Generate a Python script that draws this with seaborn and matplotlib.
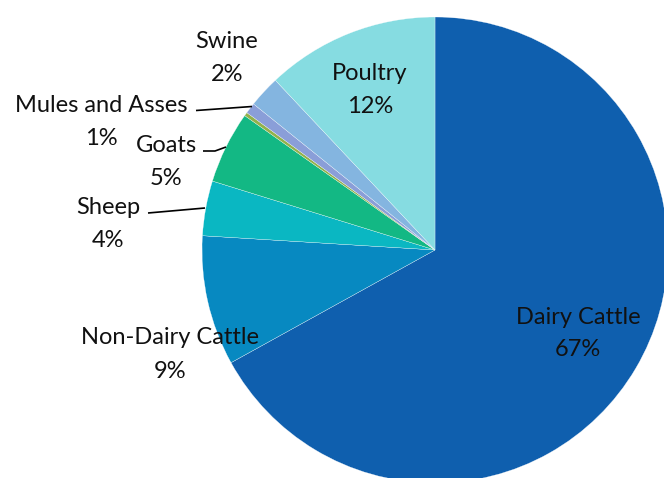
import matplotlib
matplotlib.use("Agg")
import matplotlib.pyplot as plt
import seaborn as sns

# data (share of livestock emissions)
categories = ["Dairy Cattle", "Non-Dairy Cattle", "Sheep", "Goats", "Horses",
              "Mules and Asses", "Swine", "Poultry"]
shares = [66.9, 9.0, 3.8, 5.0, 0.25, 0.75, 2.2, 12.0]
pct_labels = ["67%", "9%", "4%", "5%", "", "1%", "2%", "12%"]
colors = ["#0F5FAE", "#0789C1", "#0AB7C2", "#13B884", "#93B14A",
          "#8A9ED8", "#84B5E0", "#86DCE1"]

# layout (pixel coords, y measured from top of image)
W, H = 664, 478
label_pos = {
    "Dairy Cattle": (578, 317),
    "Non-Dairy Cattle": (170, 338),
    "Sheep": (108, 207),
    "Goats": (166, 145),
    "Mules and Asses": (101, 105),
    "Swine": (227, 41),
    "Poultry": (370, 73),
}
leaders = {
    "Sheep": [(148, 213), (205, 208)],
    "Goats": [(203, 151), (215, 151), (226, 147)],
    "Mules and Asses": [(196, 110.5), (252, 106.5)],
}

sns.set_theme(style="white")
plt.rcParams["font.family"] = ["Lato", "DejaVu Sans"]

fig = plt.figure(figsize=(W / 100, H / 100), dpi=100)
ax = fig.add_axes([0, 0, 1, 1])
ax.pie(shares, colors=colors, startangle=90, counterclock=False,
       center=(435, H - 250), radius=233,
       wedgeprops=dict(edgecolor="white", linewidth=0.2))
ax.set_xlim(0, W)
ax.set_ylim(0, H)
ax.set_aspect("equal")
ax.axis("off")

for name, pct in zip(categories, pct_labels):
    if name not in label_pos:
        continue
    x, y = label_pos[name]
    ax.text(x, H - y, name, ha="center", va="center", fontsize=17, color="#111111")
    ax.text(x, H - y - 33, pct, ha="center", va="center", fontsize=17, color="#111111")

for name, pts in leaders.items():
    xs = [p[0] for p in pts]
    ys = [H - p[1] for p in pts]
    ax.plot(xs, ys, color="black", linewidth=1.2, solid_capstyle="butt")

fig.savefig("out.png", dpi=100)
plt.close(fig)
